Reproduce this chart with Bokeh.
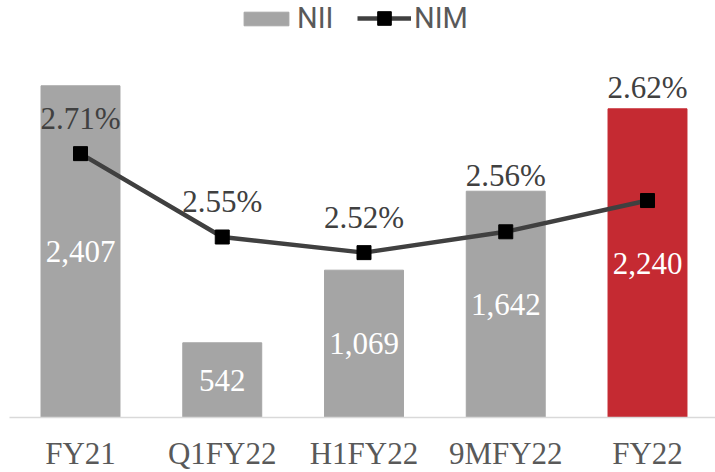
from bokeh.plotting import figure
from bokeh.models import Range1d, FixedTicker, Legend, LegendItem, ColumnDataSource
from bokeh.core.properties import value
from bokeh.embed import file_html
from bokeh.resources import INLINE

categories = ["FY21", "Q1FY22", "H1FY22", "9MFY22", "FY22"]
nii = [2407, 542, 1069, 1642, 2240]
nim = [2.71, 2.55, 2.52, 2.56, 2.62]

bar_colors = ["#A5A5A5", "#A5A5A5", "#A5A5A5", "#A5A5A5", "#C52A32"]
nim_label_offsets = [-35, -36, -35, -56, -113]

x = list(range(len(categories)))
src = ColumnDataSource(dict(
    x=x, nii=nii, nim=nim, color=bar_colors,
    mid=[v / 2 for v in nii],
    nii_lbl=[f"{v:,}" for v in nii],
    nim_lbl=[f"{v:.2f}%" for v in nim],
    nim_off=nim_label_offsets,
))

SERIF = value("Liberation Serif")
FH = 417

p = figure(frame_width=706, frame_height=FH, output_backend="svg", toolbar_location=None,
           x_range=Range1d(-0.5009, 4.4797), y_range=Range1d(0, 3026),
           y_axis_location=None, min_border=0, min_border_left=9)
p.extra_y_ranges = {"nim": Range1d(2.2036, 3.0039)}
p.outline_line_color = None
p.xgrid.visible = False
p.ygrid.visible = False
p.background_fill_color = "white"

bars = p.vbar(x="x", top="nii", width=0.557, color="color", source=src)
p.text(x="x", y="mid", text="nii_lbl", source=src, text_color="white",
       text_font=SERIF, text_font_size="31px", text_align="center", text_baseline="middle")

line = p.line(x="x", y="nim", source=src, y_range_name="nim", line_color="#404040", line_width=4.5)
marks = p.scatter(x="x", y="nim", source=src, y_range_name="nim", marker="square", size=14,
                  fill_color="black", line_color="black")
p.text(x="x", y="nim", text="nim_lbl", source=src, y_range_name="nim", y_offset="nim_off",
       text_color="#404040", text_font=SERIF, text_font_size="31px",
       text_align="center", text_baseline="middle")

ax = p.xaxis[0]
ax.ticker = FixedTicker(ticks=x)
ax.major_label_overrides = {i: c for i, c in zip(x, categories)}
ax.major_label_text_font = "Liberation Serif"
ax.major_label_text_font_size = "31px"
ax.major_label_text_color = "#595959"
ax.major_tick_line_color = None
ax.minor_tick_line_color = None
ax.major_tick_out = 0
ax.major_tick_in = 0
ax.major_label_standoff = 18
ax.axis_line_color = "#D9D9D9"
ax.axis_line_width = 1.5

def mk_legend(item, gw, gh, loc):
    lg = Legend(items=[item], location=loc, orientation="horizontal",
                glyph_width=gw, glyph_height=gh, label_standoff=3,
                padding=0, margin=0, spacing=0, border_line_color=None,
                background_fill_alpha=0, label_text_font="Roboto",
                label_text_font_size="29px", label_text_color="#595959")
    return lg

leg1 = mk_legend(LegendItem(label="NII", renderers=[bars]), 56, 17, (229, FH - 35))
leg2 = mk_legend(LegendItem(label="NIM", renderers=[line, marks]), 54, 34, (348, FH - 35))
p.add_layout(leg1, "center")
p.add_layout(leg2, "center")

open("out.html", "w").write(file_html(p, INLINE))
